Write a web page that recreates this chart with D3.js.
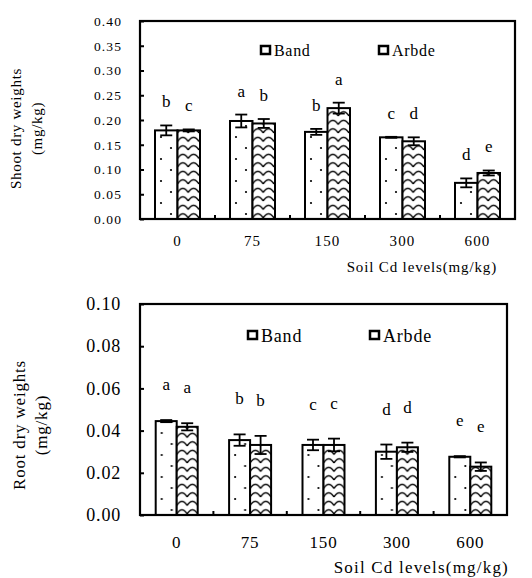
<!DOCTYPE html>
<html>
<head>
<meta charset="utf-8">
<script src="https://cdn.jsdelivr.net/npm/d3@7"></script>
<style>
  body { margin: 0; background: #fff; }
  svg { display: block; }
</style>
</head>
<body>
<script>
// Data
const levels = ["0", "75", "150", "300", "600"];
const series = ["Band", "Arbde"];

// Shoot dry weights (mg/kg)
const shootBand = [0.179, 0.198, 0.176, 0.165, 0.073];
const shootBandErr = [0.010, 0.013, 0.006, 0.001, 0.009];
const shootArbde = [0.179, 0.193, 0.224, 0.157, 0.093];
const shootArbdeErr = [0.002, 0.009, 0.011, 0.008, 0.005];
const shootBandLetters = ["b", "a", "b", "c", "d"];
const shootArbdeLetters = ["c", "b", "a", "d", "e"];
const shootTicks = [0, 0.05, 0.10, 0.15, 0.20, 0.25, 0.30, 0.35, 0.40];

// Root dry weights (mg/kg)
const rootBand = [0.0445, 0.0355, 0.0332, 0.0300, 0.0276];
const rootBandErr = [0.0005, 0.0027, 0.0025, 0.0034, 0.0003];
const rootArbde = [0.0418, 0.0332, 0.0332, 0.0321, 0.0229];
const rootArbdeErr = [0.0017, 0.0043, 0.0030, 0.0022, 0.0020];
const rootBandLetters = ["a", "b", "c", "d", "e"];
const rootArbdeLetters = ["a", "b", "c", "d", "e"];
const rootTicks = [0, 0.02, 0.04, 0.06, 0.08, 0.10];

const width = 532;
const height = 578;

const svg = d3.select("body")
    .append("svg")
    .attr("width", width)
    .attr("height", height)
    .attr("font-family", "'Liberation Serif', 'Times New Roman', serif");

const defs = svg.append("defs");

function drawPanel(cfg) {
    const g = svg.append("g");

    const x = d3.scaleBand()
        .domain(levels)
        .range([cfg.left, cfg.right])
        .padding(0);

    const y = d3.scaleLinear()
        .domain([0, cfg.max])
        .range([cfg.bottom, cfg.top]);

    const sub = d3.scaleBand()
        .domain(series)
        .range([-cfg.barW, cfg.barW]);

    const barX = d => x(d.level) + x.bandwidth() / 2 + sub(d.s);
    const cx = d => barX(d) + sub.bandwidth() / 2;

    // Fill patterns, tiled so every bar of a series gets the same texture
    const step = x.step();
    const bandLeft = x(levels[0]) + x.bandwidth() / 2 + sub("Band");
    const arbdeLeft = x(levels[0]) + x.bandwidth() / 2 + sub("Arbde");

    const dotW = step / 3;
    const dots = defs.append("pattern")
        .attr("id", cfg.id + "-dots")
        .attr("patternUnits", "userSpaceOnUse")
        .attr("x", bandLeft).attr("y", cfg.bottom)
        .attr("width", dotW).attr("height", 22);
    dots.append("rect").attr("width", dotW).attr("height", 22).attr("fill", "#fff");
    dots.append("circle").attr("cx", 6).attr("cy", 6).attr("r", 1.1).attr("fill", "#000");
    dots.append("circle").attr("cx", 16).attr("cy", 17).attr("r", 1.1).attr("fill", "#000");

    const waveW = step / 7;
    const waves = defs.append("pattern")
        .attr("id", cfg.id + "-waves")
        .attr("patternUnits", "userSpaceOnUse")
        .attr("x", arbdeLeft).attr("y", cfg.bottom)
        .attr("width", waveW).attr("height", 8.5);
    waves.append("rect").attr("width", waveW).attr("height", 8.5).attr("fill", "#fff");
    waves.append("path")
        .attr("d", `M0,7.5 Q${waveW / 2},-1 ${waveW},7.5`)
        .attr("fill", "none")
        .attr("stroke", "#000")
        .attr("stroke-width", 1.5);

    const fills = { Band: `url(#${cfg.id}-dots)`, Arbde: `url(#${cfg.id}-waves)` };

    const rows = levels.map((lv, i) => ({
        level: lv,
        Band: { v: cfg.band[i], e: cfg.bandErr[i], l: cfg.bandLetters[i] },
        Arbde: { v: cfg.arbde[i], e: cfg.arbdeErr[i], l: cfg.arbdeLetters[i] }
    }));
    const flat = rows.flatMap(r => series.map(s => ({ level: r.level, s, ...r[s] })));

    // Bars
    g.append("g")
        .selectAll("rect")
        .data(flat)
        .join("rect")
        .attr("x", barX)
        .attr("y", d => y(d.v))
        .attr("width", sub.bandwidth())
        .attr("height", d => y(0) - y(d.v))
        .attr("fill", d => fills[d.s])
        .attr("stroke", "#000")
        .attr("stroke-width", 2);

    // Error bars
    const err = g.append("g")
        .attr("stroke", "#000")
        .attr("stroke-width", 1.8)
        .selectAll("g")
        .data(flat)
        .join("g")
        .attr("transform", d => `translate(${cx(d)},0)`);
    err.append("line")
        .attr("y1", d => y(d.v - d.e))
        .attr("y2", d => y(d.v + d.e));
    err.append("line")
        .attr("x1", -6).attr("x2", 6)
        .attr("y1", d => y(d.v + d.e))
        .attr("y2", d => y(d.v + d.e));
    err.append("line")
        .attr("x1", -6).attr("x2", 6)
        .attr("y1", d => y(d.v - d.e))
        .attr("y2", d => y(d.v - d.e));

    // Significance letters
    g.append("g")
        .selectAll("text")
        .data(flat)
        .join("text")
        .attr("x", cx)
        .attr("y", d => y(d.v + d.e) - cfg.letterGap)
        .attr("text-anchor", "middle")
        .attr("font-size", cfg.letterSize)
        .text(d => d.l);

    // Y axis with inside ticks
    const yAxis = g.append("g")
        .attr("transform", `translate(${cfg.left},0)`)
        .call(d3.axisLeft(y)
            .tickValues(cfg.ticks)
            .tickSize(-4)
            .tickPadding(cfg.tickPad)
            .tickFormat(d3.format(".2f")));
    yAxis.attr("font-family", null).attr("font-size", null);
    yAxis.select(".domain").remove();
    yAxis.selectAll(".tick line").attr("stroke-width", 2);
    yAxis.selectAll(".tick text")
        .attr("font-size", cfg.tickSize)
        .attr("letter-spacing", cfg.tickSpacing);

    // Frame
    g.append("rect")
        .attr("x", cfg.left)
        .attr("y", cfg.top)
        .attr("width", cfg.right - cfg.left)
        .attr("height", cfg.bottom - cfg.top)
        .attr("fill", "none")
        .attr("stroke", "#000")
        .attr("stroke-width", 2.2);

    // Small upward ticks between categories
    g.append("g")
        .selectAll("line")
        .data(levels.slice(1))
        .join("line")
        .attr("x1", d => x(d))
        .attr("x2", d => x(d))
        .attr("y1", cfg.bottom)
        .attr("y2", cfg.bottom - 4)
        .attr("stroke", "#000")
        .attr("stroke-width", 2);

    // Category labels
    g.append("g")
        .selectAll("text")
        .data(levels)
        .join("text")
        .attr("x", d => x(d) + x.bandwidth() / 2)
        .attr("y", cfg.catY)
        .attr("text-anchor", "middle")
        .attr("font-size", cfg.catSize)
        .attr("letter-spacing", cfg.tickSpacing)
        .text(d => d);

    // X title
    g.append("text")
        .attr("x", cfg.xTitleRight)
        .attr("y", cfg.xTitleY)
        .attr("text-anchor", "end")
        .attr("font-size", cfg.titleSize)
        .attr("letter-spacing", cfg.xTitleSpacing)
        .text("Soil Cd levels(mg/kg)");

    // Y title, two lines
    const midY = (cfg.top + cfg.bottom) / 2 + cfg.yTitleShift;
    [cfg.yTitle, "(mg/kg)"].forEach((t, i) => {
        g.append("text")
            .attr("transform", `translate(${cfg.yTitleX[i]},${midY}) rotate(-90)`)
            .attr("text-anchor", "middle")
            .attr("font-size", cfg.titleSize)
            .attr("letter-spacing", cfg.titleSpacing)
            .text(t);
    });

    // Legend
    const leg = g.append("g")
        .selectAll("g")
        .data(series)
        .join("g")
        .attr("transform", (d, i) => `translate(${cfg.legendX[i]},${cfg.legendY})`);
    leg.append("rect")
        .attr("x", 0).attr("y", -5)
        .attr("width", 9).attr("height", 8)
        .attr("fill", "#fff")
        .attr("stroke", "#000")
        .attr("stroke-width", 2.5);
    leg.append("text")
        .attr("x", 13)
        .attr("y", cfg.legendSize * 0.33)
        .attr("font-size", cfg.legendSize)
        .attr("letter-spacing", cfg.titleSpacing)
        .text(d => d);
}

drawPanel({
    id: "shoot",
    left: 140, right: 515, top: 21, bottom: 219,
    max: 0.40, ticks: shootTicks, barW: 22.5,
    band: shootBand, bandErr: shootBandErr, bandLetters: shootBandLetters,
    arbde: shootArbde, arbdeErr: shootArbdeErr, arbdeLetters: shootArbdeLetters,
    letterGap: 18, letterSize: 17,
    tickPad: 18, tickSize: 13.5, tickSpacing: 1.1,
    catY: 246, catSize: 15,
    xTitleRight: 497, xTitleY: 272, titleSize: 15, titleSpacing: 0.7, xTitleSpacing: 0.85,
    yTitle: "Shoot dry weights", yTitleX: [21, 42], yTitleShift: 8.5,
    legendX: [261, 379], legendY: 51, legendSize: 16
});

drawPanel({
    id: "root",
    left: 140, right: 507, top: 304, bottom: 515,
    max: 0.10, ticks: rootTicks, barW: 21,
    band: rootBand, bandErr: rootBandErr, bandLetters: rootBandLetters,
    arbde: rootArbde, arbdeErr: rootArbdeErr, arbdeLetters: rootArbdeLetters,
    letterGap: 30, letterSize: 17,
    tickPad: 19, tickSize: 18, tickSpacing: 0.8,
    catY: 548, catSize: 17,
    xTitleRight: 509, xTitleY: 573, titleSize: 17, titleSpacing: 0.8, xTitleSpacing: 1.2,
    yTitle: "Root dry weights", yTitleX: [25, 47], yTitleShift: 15.5,
    legendX: [248, 370], legendY: 336, legendSize: 18
});
</script>
</body>
</html>
